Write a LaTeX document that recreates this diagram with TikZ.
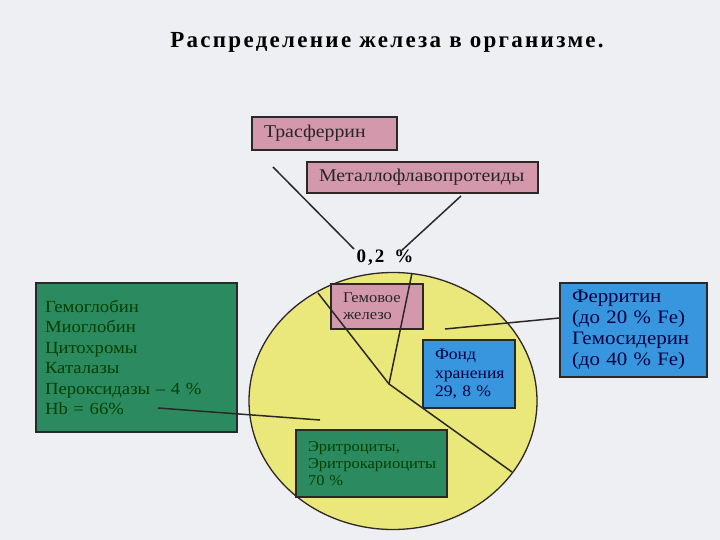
\documentclass[tikz,border=0pt]{standalone}
\usepackage{fontspec}
\setmainfont{Liberation Serif}[FakeStretch=1.1]
\newfontfamily\titlefont{Liberation Serif}[LetterSpace=10]
\definecolor{pagebg}{RGB}{238,239,242}
\definecolor{pinkfill}{RGB}{212,152,172}
\definecolor{greenfill}{RGB}{44,138,96}
\definecolor{bluefill}{RGB}{56,150,222}
\definecolor{piefill}{RGB}{234,232,122}
\definecolor{edge}{RGB}{45,40,40}
\tikzset{
    box/.style={draw=edge, line width=1.3pt, inner xsep=12pt, inner ysep=0pt, align=left},
    pinkbox/.style={box, fill=pinkfill, text=black!85},
    greenbox/.style={box, fill=greenfill, text=black!75!green},
    bluebox/.style={box, fill=bluefill, text=blue!25!black},
    link/.style={draw=edge, line width=1.5pt}
}

\begin{document}
\begin{tikzpicture}
  [
    x = 1pt,
    y = -1pt,
  ]
  \fill[pagebg] (0,0) rectangle (720,540);
  \useasboundingbox (0,0) rectangle (720,540);

  \node (title) at (387,42) {\titlefont\bfseries\fontsize{23}{26}\selectfont Распределение железа в организме.};

  % pie
  \draw[edge, line width=1.3pt, fill=piefill] (393,401) ellipse [x radius=144pt, y radius=128.5pt];

  \node [pinkbox, text width=121pt, minimum height=33pt, font=\fontsize{18}{21}\selectfont] (tras) at (324.5,133.5) {Трасферрин};
  \node [pinkbox, text width=207pt, minimum height=31pt, font=\fontsize{18}{21}\selectfont] (metal) at (422.5,177.5) {Металлофлавопротеиды};
  \node [font=\titlefont\bfseries\fontsize{19}{22}\selectfont] (pct) at (385,258) {0,2\hspace{10pt}\%};

  \node [greenbox, text width=183pt, minimum height=149pt, inner xsep=9pt, font=\fontsize{17}{20.5}\selectfont] (gem) at (136.5,357.5)
    {Гемоглобин\\Миоглобин\\Цитохромы\\Каталазы\\Пероксидазы – 4~\%\\Hb = 66\%};
  \node [pinkbox, text width=68pt, minimum height=45pt, font=\fontsize{15}{17}\selectfont] (hem) at (377,306.5) {Гемовое\\железо};
  \node [bluebox, text width=123pt, minimum height=94pt, font=\fontsize{19}{21}\selectfont] (ferr) at (633.5,330)
    {Ферритин\\(до 20~\% Fe)\\Гемосидерин\\(до 40~\% Fe)};
  \node [bluebox, text width=68pt, minimum height=68pt, font=\fontsize{16}{18.3}\selectfont] (fond) at (469,374) {Фонд\\хранения\\29, 8~\%};
  \node [greenbox, text width=127pt, minimum height=67pt, font=\fontsize{15}{16.7}\selectfont] (eritr) at (371.5,463.5)
    {Эритроциты,\\Эритрокариоциты\\70~\%};

  \coordinate (core) at (389,384);
  \coordinate (rimA) at (318,293);
  \coordinate (rimB) at (512,472);
  \coordinate (rimC) at (412,273);
  \coordinate (hbend) at (158,408);
  \coordinate (hbtip) at (320,420);
  \coordinate (ferrtip) at (445,329);
  \coordinate (trasend) at (273,167);
  \coordinate (metalend) at (461,196);
  \coordinate (pctA) at (354,249);
  \coordinate (pctB) at (400,252);

  \draw[link] (rimA) -- (core) -- (rimB);
  \draw[link] (rimC) -- (core);
  \draw[link] (hbend) -- (hbtip);
  \draw[link] ([yshift=12pt]ferr.west) -- (ferrtip);
  \draw[link] (trasend) -- (pctA);
  \draw[link] (metalend) -- (pctB);
\end{tikzpicture}
\end{document}
